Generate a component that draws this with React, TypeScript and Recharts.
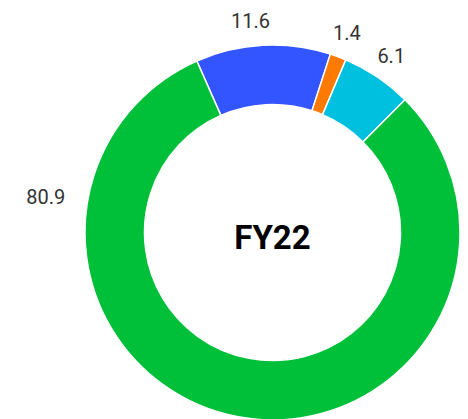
import { PieChart, Pie, Cell } from "recharts";

const categories = ["Blue", "Orange", "Cyan", "Green"];
const values = [11.6, 1.4, 6.1, 80.9];
const colors = ["#3355ff", "#ff7a00", "#00c0e0", "#00c03a"];
const centerTitle = "FY22";

const data = categories.map((name, i) => ({ name, value: values[i] }));

const RAD = Math.PI / 180;
const CX = 272.5;
const CY = 232.5;
const MARGIN = 5;

function SliceLabel(props: any) {
  const { cx, cy, midAngle, outerRadius, value, index } = props;
  // the big slice's label sits on the left instead of at the bottom
  const big = index === values.length - 1;
  const angle = big ? 171 : midAngle + (index === 0 ? 3 : 0);
  const r = outerRadius + (big ? 42 : 25);
  const x = cx + r * Math.cos(-angle * RAD);
  const y = cy + r * Math.sin(-angle * RAD);
  return (
    <text
      x={x}
      y={y}
      textAnchor="middle"
      dominantBaseline="central"
      fill="#333333"
      fontSize={20}
      fontFamily="'Liberation Sans Narrow', Roboto, sans-serif"
    >
      {value}
    </text>
  );
}

export default function App() {
  return (
    <div style={{ position: "fixed", top: 0, left: 0, width: 468, height: 419, background: "#fff" }}>
      <PieChart width={468} height={419} margin={{ top: MARGIN, right: MARGIN, bottom: MARGIN, left: MARGIN }}>
        <Pie
          data={data}
          dataKey="value"
          nameKey="name"
          cx={CX - MARGIN}
          cy={CY - MARGIN}
          innerRadius={128}
          outerRadius={187.5}
          startAngle={113.8}
          endAngle={-246.2}
          stroke="#ffffff"
          strokeWidth={1.5}
          labelLine={false}
          label={SliceLabel}
          isAnimationActive={false}
        >
          {data.map((d, i) => (
            <Cell key={d.name} fill={colors[i]} />
          ))}
        </Pie>
      </PieChart>
      <div
        style={{
          position: "absolute",
          left: CX - 60,
          width: 120,
          top: CY + 5 - 20,
          height: 40,
          lineHeight: "40px",
          textAlign: "center",
          fontFamily: "Roboto, sans-serif",
          fontWeight: 700,
          fontSize: 33,
          color: "#000",
        }}
      >
        {centerTitle}
      </div>
    </div>
  );
}
